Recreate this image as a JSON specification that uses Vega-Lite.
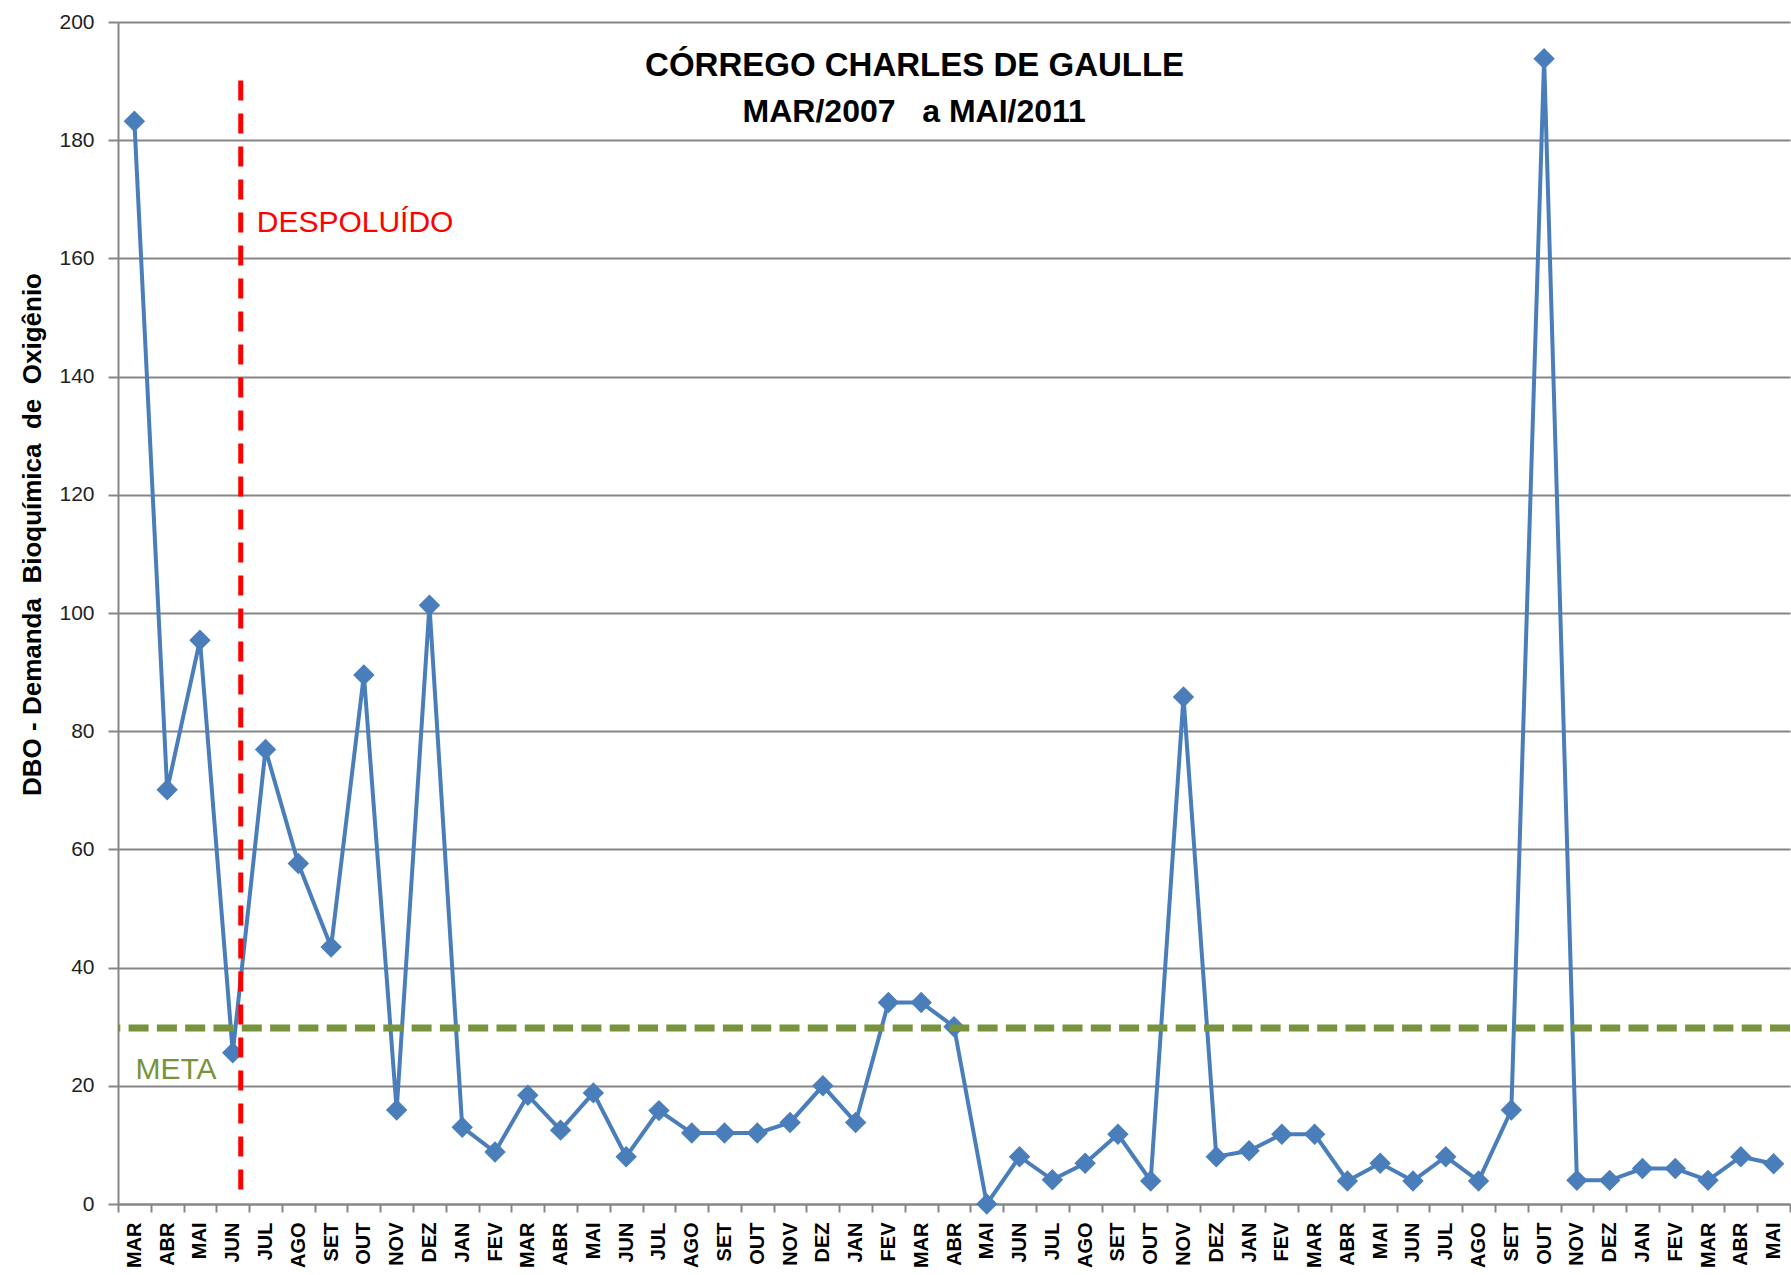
{
  "$schema": "https://vega.github.io/schema/vega-lite/v6.json",
  "width": 1672,
  "height": 1182,
  "autosize": {"type": "none"},
  "padding": {"left": 118, "top": 22, "right": 1, "bottom": 71},
  "background": "white",
  "config": {"view": {"stroke": null}, "font": "Liberation Sans"},
  "data": {
    "values": [
      {"mes": "MAR/07", "dbo": 183.2}, {"mes": "ABR/07", "dbo": 70.1}, {"mes": "MAI/07", "dbo": 95.4},
      {"mes": "JUN/07", "dbo": 25.6}, {"mes": "JUL/07", "dbo": 76.9}, {"mes": "AGO/07", "dbo": 57.6},
      {"mes": "SET/07", "dbo": 43.5}, {"mes": "OUT/07", "dbo": 89.5}, {"mes": "NOV/07", "dbo": 15.9},
      {"mes": "DEZ/07", "dbo": 101.3}, {"mes": "JAN/08", "dbo": 13.0}, {"mes": "FEV/08", "dbo": 8.8},
      {"mes": "MAR/08", "dbo": 18.4}, {"mes": "ABR/08", "dbo": 12.5}, {"mes": "MAI/08", "dbo": 18.8},
      {"mes": "JUN/08", "dbo": 8.0}, {"mes": "JUL/08", "dbo": 15.8}, {"mes": "AGO/08", "dbo": 12.0},
      {"mes": "SET/08", "dbo": 12.0}, {"mes": "OUT/08", "dbo": 12.0}, {"mes": "NOV/08", "dbo": 13.8},
      {"mes": "DEZ/08", "dbo": 20.0}, {"mes": "JAN/09", "dbo": 13.8}, {"mes": "FEV/09", "dbo": 34.1},
      {"mes": "MAR/09", "dbo": 34.1}, {"mes": "ABR/09", "dbo": 30.0}, {"mes": "MAI/09", "dbo": 0},
      {"mes": "JUN/09", "dbo": 8.0}, {"mes": "JUL/09", "dbo": 4.1}, {"mes": "AGO/09", "dbo": 6.9},
      {"mes": "SET/09", "dbo": 11.8}, {"mes": "OUT/09", "dbo": 3.9}, {"mes": "NOV/09", "dbo": 85.8},
      {"mes": "DEZ/09", "dbo": 8.0}, {"mes": "JAN/10", "dbo": 9.0}, {"mes": "FEV/10", "dbo": 11.8},
      {"mes": "MAR/10", "dbo": 11.8}, {"mes": "ABR/10", "dbo": 3.9}, {"mes": "MAI/10", "dbo": 6.9},
      {"mes": "JUN/10", "dbo": 3.9}, {"mes": "JUL/10", "dbo": 8.0}, {"mes": "AGO/10", "dbo": 3.9},
      {"mes": "SET/10", "dbo": 15.9}, {"mes": "OUT/10", "dbo": 193.8}, {"mes": "NOV/10", "dbo": 4.0},
      {"mes": "DEZ/10", "dbo": 4.0}, {"mes": "JAN/11", "dbo": 6.0}, {"mes": "FEV/11", "dbo": 6.0},
      {"mes": "MAR/11", "dbo": 4.0}, {"mes": "ABR/11", "dbo": 8.0}, {"mes": "MAI/11", "dbo": 6.8}
    ]
  },
  "layer": [
    {
      "mark": {"type": "line", "color": "#4A7EBB", "strokeWidth": 4, "clip": false},
      "encoding": {
        "x": {
          "field": "mes", "type": "ordinal", "sort": null, "bandPosition": 0.5,
          "scale": {
            "type": "band", "paddingInner": 0, "paddingOuter": 0,
            "domain": ["MAR/07","ABR/07","MAI/07","JUN/07","JUL/07","AGO/07","SET/07","OUT/07","NOV/07","DEZ/07",
                       "JAN/08","FEV/08","MAR/08","ABR/08","MAI/08","JUN/08","JUL/08","AGO/08","SET/08","OUT/08","NOV/08","DEZ/08",
                       "JAN/09","FEV/09","MAR/09","ABR/09","MAI/09","JUN/09","JUL/09","AGO/09","SET/09","OUT/09","NOV/09","DEZ/09",
                       "JAN/10","FEV/10","MAR/10","ABR/10","MAI/10","JUN/10","JUL/10","AGO/10","SET/10","OUT/10","NOV/10","DEZ/10",
                       "JAN/11","FEV/11","MAR/11","ABR/11","MAI/11"]
          },
          "axis": {
            "title": null,
            "labelExpr": "isString(datum.value) ? split(datum.value, '/')[0] : ''",
            "labelAngle": -90, "labelAlign": "right", "labelBaseline": "middle",
            "labelFontSize": 20, "labelFontWeight": "bold", "labelColor": "#000000",
            "labelPadding": 10, "labelFont": "Liberation Sans",
            "tickBand": "extent", "tickSize": 8, "tickColor": "#868686", "tickWidth": 2,
            "domainColor": "#868686", "domainWidth": 2, "grid": false
          }
        },
        "y": {
          "field": "dbo", "type": "quantitative",
          "scale": {"domain": [0, 200], "nice": false},
          "axis": {
            "title": "DBO - Demanda\u00a0 Bioquímica\u00a0 de\u00a0 Oxigênio",
            "titleFontSize": 26, "titleFontWeight": "bold", "titleColor": "#000000",
            "titleFont": "Liberation Sans", "titlePadding": 13, "titleY": 512,
            "values": [0, 20, 40, 60, 80, 100, 120, 140, 160, 180, 200],
            "labelFontSize": 21, "labelColor": "#222222", "labelPadding": 14, "labelFont": "Liberation Sans",
            "grid": true, "gridColor": "#868686", "gridWidth": 2,
            "domainColor": "#868686", "domainWidth": 2,
            "tickColor": "#868686", "tickWidth": 2, "tickSize": 10
          }
        }
      }
    },
    {
      "mark": {"type": "point", "shape": "diamond", "filled": true, "size": 460, "color": "#4A7EBB", "opacity": 1, "clip": false},
      "encoding": {
        "x": {"field": "mes", "type": "ordinal", "sort": null, "bandPosition": 0.5},
        "y": {"field": "dbo", "type": "quantitative"}
      }
    },
    {
      "data": {"values": [{}]},
      "mark": {"type": "rule", "color": "#77933C", "strokeWidth": 7, "strokeDash": [20, 8.3]},
      "encoding": {"y": {"datum": 29.8, "type": "quantitative"}}
    },
    {
      "data": {"values": [{}]},
      "mark": {"type": "rule", "color": "#FF0000", "strokeWidth": 5, "strokeDash": [20, 13], "xOffset": 8},
      "encoding": {
        "x": {"datum": "JUN/07", "type": "ordinal", "bandPosition": 0.5},
        "y": {"datum": 190.1, "type": "quantitative"},
        "y2": {"datum": 2.4}
      }
    },
    {
      "data": {"values": [{}]},
      "mark": {"type": "text", "text": "DESPOLUÍDO", "align": "left", "baseline": "alphabetic", "dx": 24, "fontSize": 30, "color": "#FF0000", "font": "Liberation Sans"},
      "encoding": {
        "x": {"datum": "JUN/07", "type": "ordinal", "bandPosition": 0.5},
        "y": {"datum": 164.4, "type": "quantitative"}
      }
    },
    {
      "data": {"values": [{}]},
      "mark": {"type": "text", "text": "META", "align": "left", "baseline": "alphabetic", "dx": 1, "fontSize": 30, "color": "#77933C", "font": "Liberation Sans"},
      "encoding": {
        "x": {"datum": "MAR/07", "type": "ordinal", "bandPosition": 0.5},
        "y": {"datum": 21.1, "type": "quantitative"}
      }
    },
    {
      "data": {"values": [{}]},
      "mark": {"type": "text", "text": "CÓRREGO CHARLES DE GAULLE", "align": "center", "baseline": "alphabetic", "dx": -6.6, "fontSize": 33, "fontWeight": "bold", "color": "#000000", "font": "Liberation Sans"},
      "encoding": {
        "x": {"datum": "MAR/09", "type": "ordinal", "bandPosition": 0.5},
        "y": {"datum": 190.9, "type": "quantitative"}
      }
    },
    {
      "data": {"values": [{}]},
      "mark": {"type": "text", "text": "MAR/2007\u00a0\u00a0\u00a0a MAI/2011", "align": "center", "baseline": "alphabetic", "dx": -7, "fontSize": 32, "fontWeight": "bold", "color": "#000000", "font": "Liberation Sans"},
      "encoding": {
        "x": {"datum": "MAR/09", "type": "ordinal", "bandPosition": 0.5},
        "y": {"datum": 183.0, "type": "quantitative"}
      }
    }
  ]
}
